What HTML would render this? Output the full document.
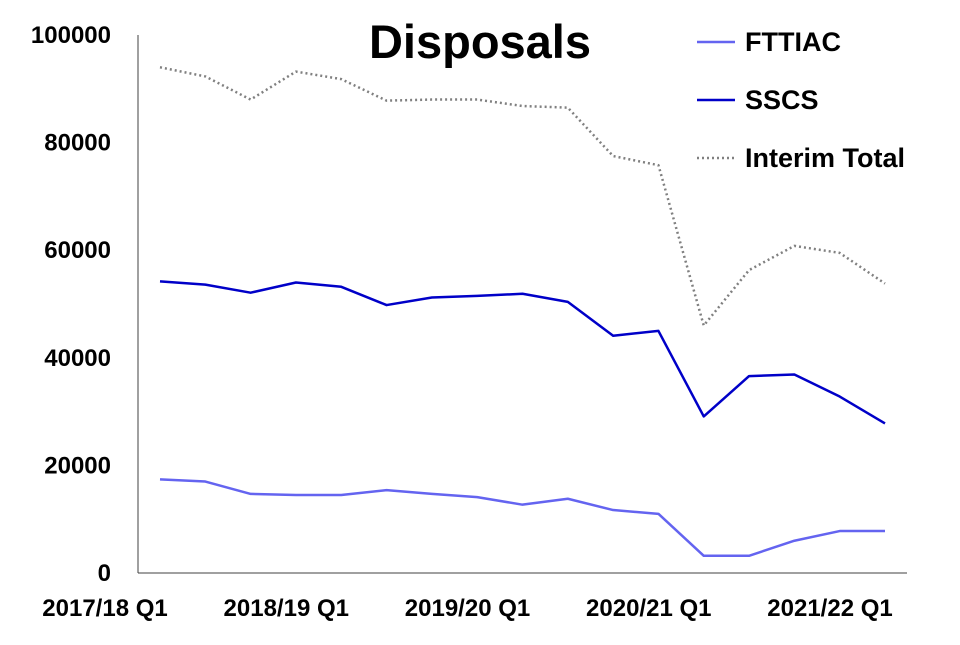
<!DOCTYPE html>
<html><head><meta charset="utf-8"><style>
body{margin:0;background:#fff;}
svg text{font-family:"Liberation Sans",Arial,sans-serif;font-weight:bold;}
</style></head><body>
<svg id="chart" width="960" height="640"></svg>
<script>
const categories=["2017/18 Q1","2017/18 Q2","2017/18 Q3","2017/18 Q4","2018/19 Q1","2018/19 Q2","2018/19 Q3","2018/19 Q4","2019/20 Q1","2019/20 Q2","2019/20 Q3","2019/20 Q4","2020/21 Q1","2020/21 Q2","2020/21 Q3","2020/21 Q4","2021/22 Q1"];
const interimTotal=[94000,92300,88000,93200,91800,87800,88000,88000,86800,86500,77500,75800,46000,56300,60800,59500,53800];
const sscs=[54200,53600,52100,54000,53200,49800,51200,51500,51900,50400,44100,45000,29100,36600,36900,32800,27800];
const fttiac=[17400,17000,14700,14500,14500,15400,14700,14100,12700,13800,11700,11000,3200,3200,6000,7800,7800];
const yTicks=[0,20000,40000,60000,80000,100000];
const xTickLabels=["2017/18 Q1","2018/19 Q1","2019/20 Q1","2020/21 Q1","2021/22 Q1"];

const NS="http://www.w3.org/2000/svg";
const svg=document.getElementById('chart');
const x0=160,x1=885,yBase=573,yTop=35,yMax=100000;
const xs=i=>x0+i*(x1-x0)/(categories.length-1);
const ys=v=>yBase-v/yMax*(yBase-yTop);
function mk(tag,attrs){const e=document.createElementNS(NS,tag);for(const k in attrs)e.setAttribute(k,attrs[k]);svg.appendChild(e);return e;}

let ax=mk('line',{x1:138,y1:yTop,x2:138,y2:yBase,stroke:'#404040','stroke-width':1});


let bx=mk('line',{x1:138,y1:yBase,x2:907,y2:yBase,stroke:'#404040','stroke-width':1});



yTicks.forEach(v=>{
  const t=mk('text',{x:111,y:ys(v)+8,'text-anchor':'end','font-size':24,fill:'#000'});
  t.textContent=String(v);
  
  
});
xTickLabels.forEach(l=>{
  const i=categories.indexOf(l);
  const t=mk('text',{x:xs(i)-55,y:616,'text-anchor':'middle','font-size':24,fill:'#000'});
  t.textContent=l;
  
  
});

function series(data,color,dash,width,name){
  const p=mk('polyline',{points:data.map((v,i)=>xs(i)+','+ys(v)).join(' '),fill:'none',stroke:color,'stroke-width':width,'stroke-dasharray':dash,'stroke-linejoin':'round'});
  
  
}
series(interimTotal,'#808080','2,3',2.5,'interim-total-line');
series(sscs,'#0000c8','none',2.5,'sscs-line');
series(fttiac,'#6464f0','none',2.5,'fttiac-line');

const title=mk('text',{x:480,y:58,'text-anchor':'middle','font-size':47,fill:'#000'});
title.textContent='Disposals';



[['FTTIAC','#6464f0','none',42],['SSCS','#0000c8','none',100],['Interim Total','#808080','2,3',158]].forEach(([n,c,d,y])=>{
  const l=mk('line',{x1:697,y1:y,x2:735,y2:y,stroke:c,'stroke-width':2.5,'stroke-dasharray':d});
  
  
  const t=mk('text',{x:745,y:y+9,'font-size':27,fill:'#000'});
  t.textContent=n;
  
  
});
</script>
</body></html>
